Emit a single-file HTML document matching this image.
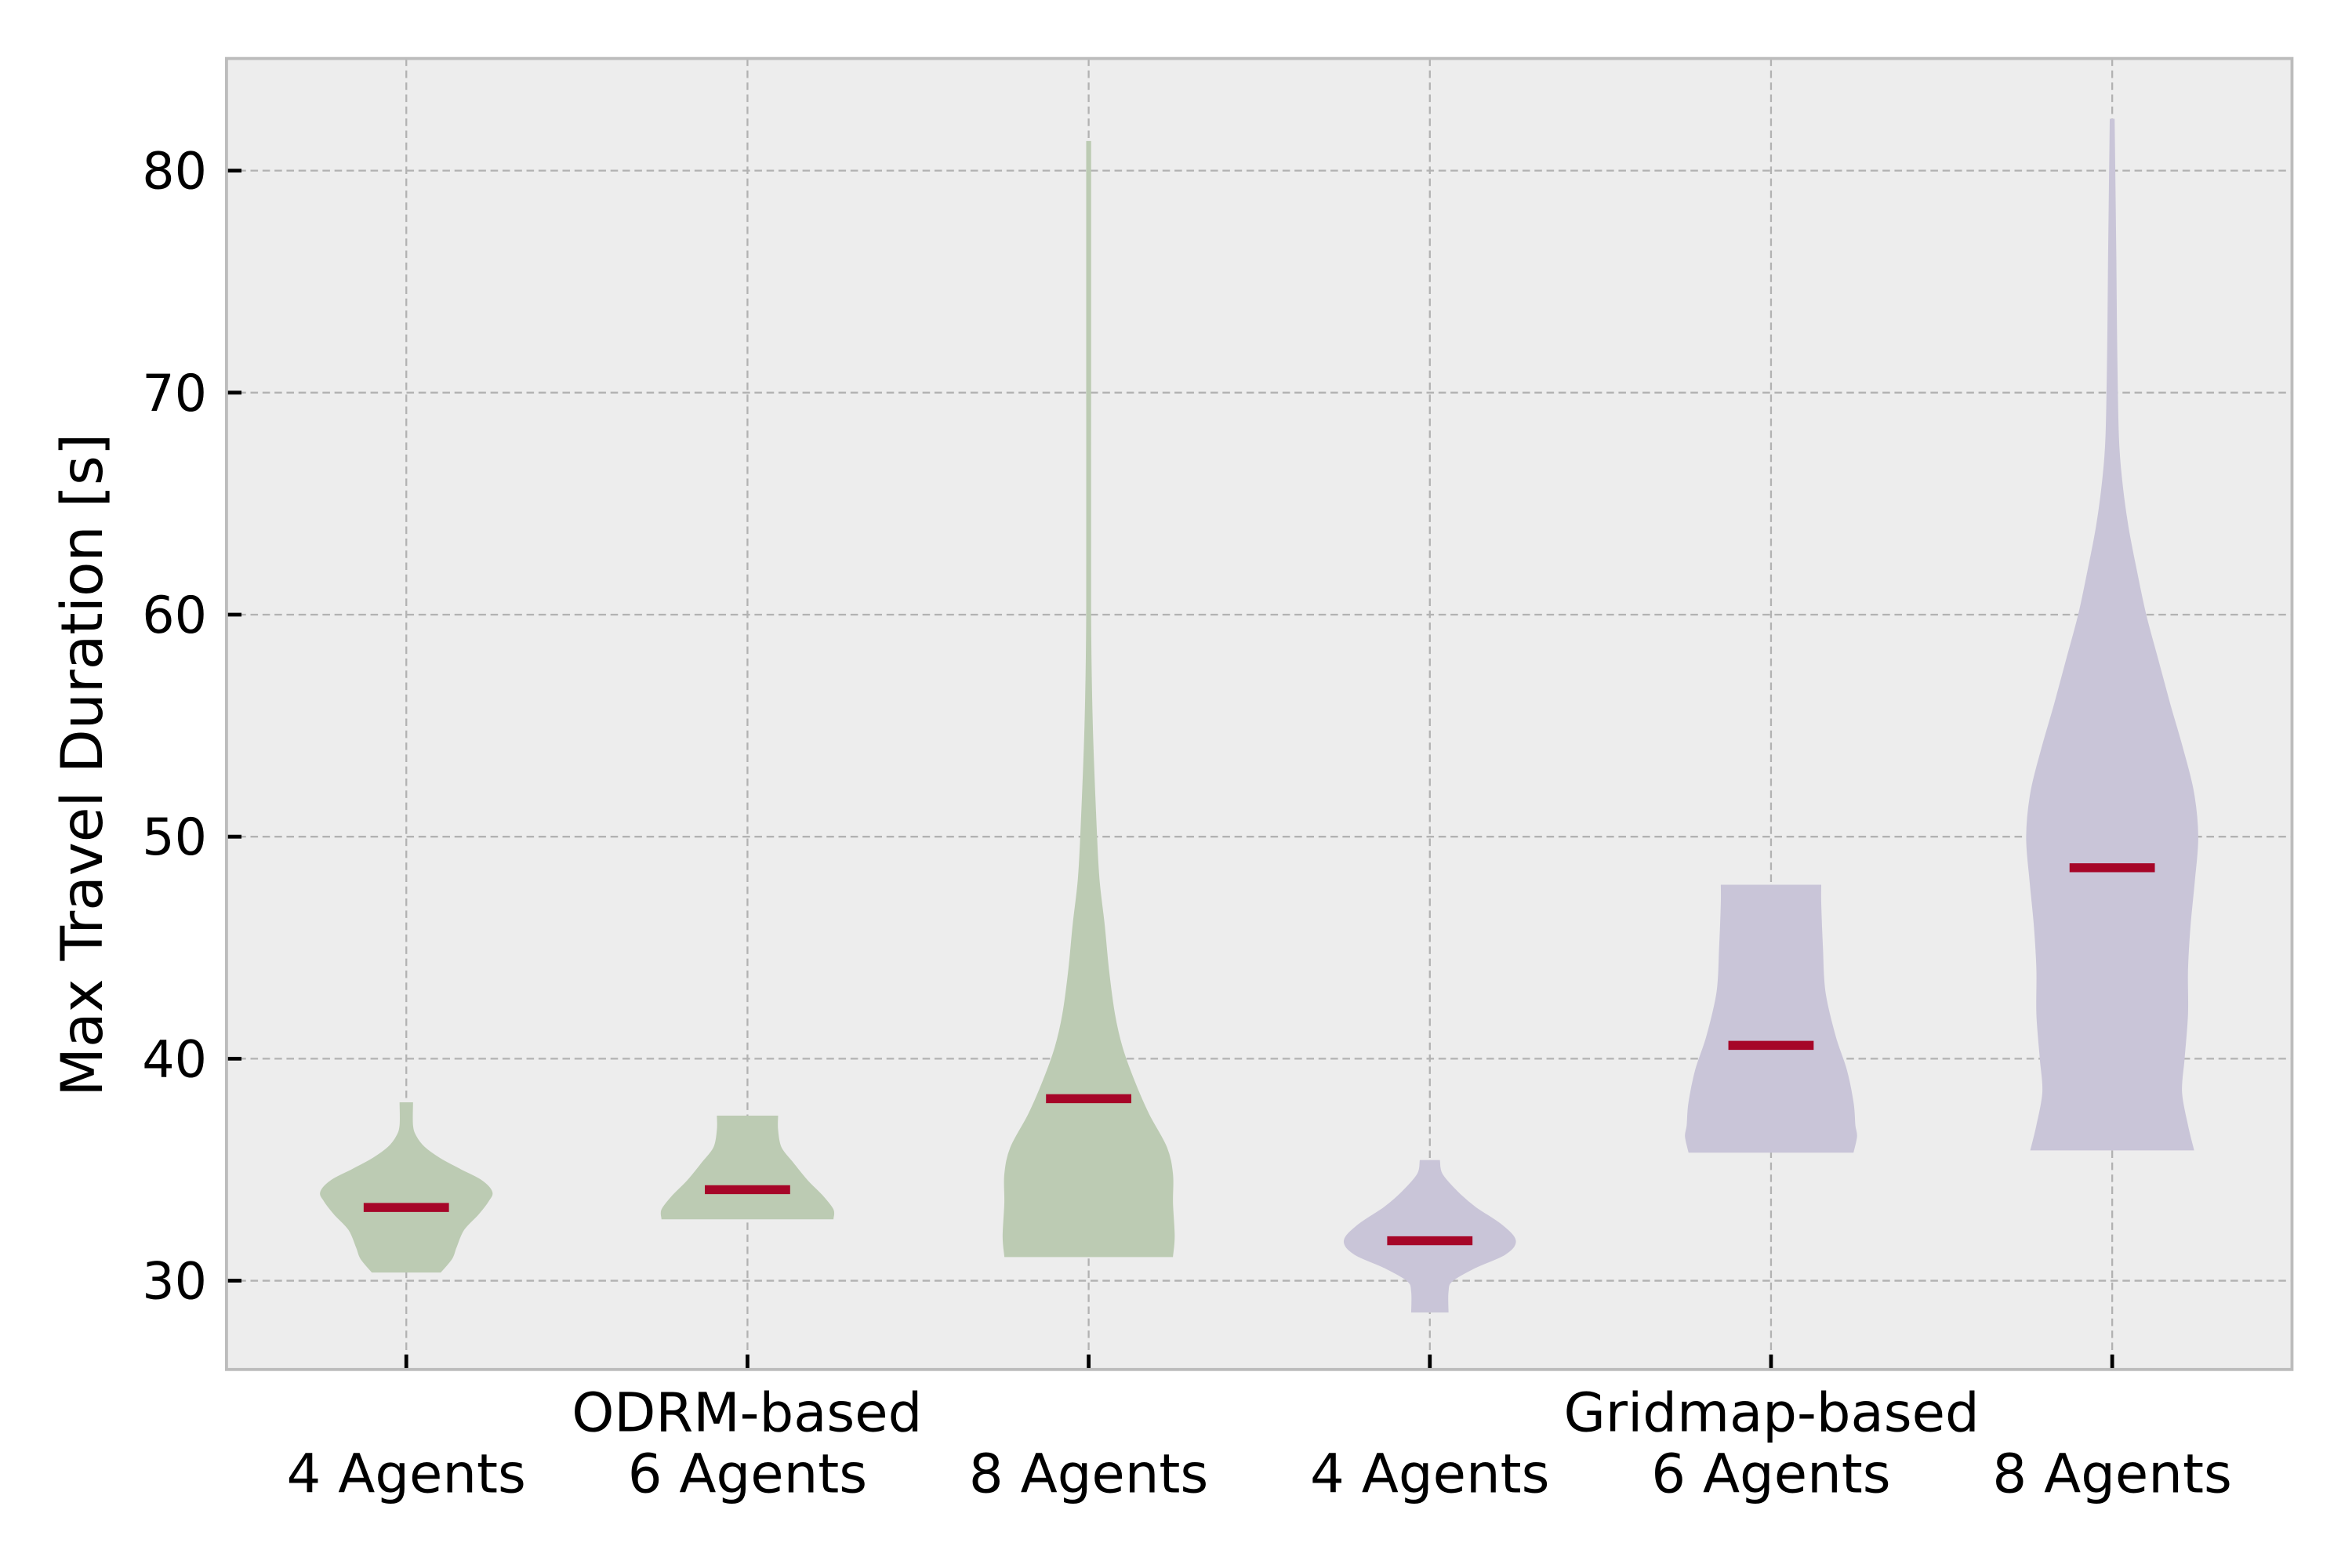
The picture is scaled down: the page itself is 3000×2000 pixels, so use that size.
<!DOCTYPE html>
<html><head><meta charset="utf-8"><style>
html,body{margin:0;padding:0;background:#fff;}
svg{display:block;font-family:"DejaVu Sans","Liberation Sans",sans-serif;}
</style></head><body>
<svg id="chart" width="3000" height="2000" viewBox="0 0 1568 1045.33" xmlns="http://www.w3.org/2000/svg">
<rect x="0" y="0" width="1568" height="1046" fill="#fff"/>
<rect x="151" y="39" width="1377" height="874" fill="#ededed"/>
<g id="grid"></g>
<g id="violins"></g>
<g id="axes"></g>
<rect x="151" y="39" width="1377" height="874" fill="none" stroke="#bcbcbc" stroke-width="2"/>
<text transform="translate(68,510) rotate(-90)" text-anchor="middle" font-size="38" fill="#000">Max Travel Duration [s]</text>
<text x="498" y="954" text-anchor="middle" font-size="36">ODRM-based</text>
<text x="1181" y="954" text-anchor="middle" font-size="36">Gridmap-based</text>
</svg>
<script>
const categories = ["4 Agents","6 Agents","8 Agents","4 Agents","6 Agents","8 Agents"];
const medians = [33.3, 34.1, 38.2, 31.8, 40.6, 48.6];
const yTicks = [30, 40, 50, 60, 70, 80];
const groupColors = ["#bccbb3","#bccbb3","#bccbb3","#c9c5d8","#c9c5d8","#c9c5d8"];
// violin profiles: [value, relative half width (1 = max)]
const violin0 = [[30.4,0.40],[31,0.53],[31.5,0.58],[32.3,0.67],[33,0.84],[33.6,0.96],[34,1],[34.5,0.88],[35,0.63],[35.5,0.39],[36,0.21],[36.5,0.11],[37,0.07],[38,0.07]];
const violin1 = [[32.8,1],[33.2,1],[33.8,0.88],[34.5,0.70],[35.3,0.53],[36,0.39],[36.8,0.35],[37.4,0.35]];
const violin2 = [[31.1,0.98],[32,1],[33.5,0.98],[34.8,0.98],[36,0.91],[37.5,0.70],[39,0.53],[40.5,0.39],[42,0.30],[44,0.23],[46,0.18],[48,0.12],[50,0.09],[55,0.04],[60,0.02],[70,0.02],[81.3,0.02]];
const violin3 = [[28.6,0.21],[29.5,0.21],[30,0.26],[30.6,0.53],[31.2,0.88],[31.8,1],[32.5,0.84],[33.3,0.53],[34,0.32],[34.8,0.14],[35.4,0.11]];
const violin4 = [[35.8,0.96],[36.5,1],[37,0.98],[38,0.96],[39.5,0.88],[41,0.75],[43,0.63],[45,0.60],[47,0.58],[47.8,0.58]];
const violin5 = [[35.9,0.95],[37,0.88],[38.5,0.81],[40,0.84],[42,0.88],[44,0.88],[46,0.91],[48,0.96],[50,1],[52,0.95],[54,0.82],[56,0.67],[58,0.53],[60,0.39],[62,0.28],[64,0.18],[66,0.11],[68,0.07],[72,0.05],[76,0.04],[82.3,0.02]];
const violins = [violin0, violin1, violin2, violin3, violin4, violin5];

const NS = "http://www.w3.org/2000/svg";
const L = 151, R = 1528, T = 39, B = 913;
const xMin = 0.473, xMax = 6.527, yMin = 26, yMax = 85.05;
function xS(i){ return L + (i + 1 - xMin) / (xMax - xMin) * (R - L); }
function yS(v){ return B - (v - yMin) / (yMax - yMin) * (B - T); }
const maxHalf = 0.25 / (xMax - xMin) * (R - L);
function mk(tag, attrs, parent){ const e = document.createElementNS(NS, tag); for (const k in attrs) e.setAttribute(k, attrs[k]); parent.appendChild(e); return e; }
function smooth(pts){
  let d = 'M' + pts[0][0].toFixed(2) + ',' + pts[0][1].toFixed(2);
  for (let k = 0; k < pts.length - 1; k++) {
    const p0 = pts[Math.max(k-1,0)], p1 = pts[k], p2 = pts[k+1], p3 = pts[Math.min(k+2,pts.length-1)];
    const c1 = [p1[0] + (p2[0]-p0[0])/6, p1[1] + (p2[1]-p0[1])/6];
    const c2 = [p2[0] - (p3[0]-p1[0])/6, p2[1] - (p3[1]-p1[1])/6];
    d += ' C' + c1.map(v=>v.toFixed(2)).join(',') + ' ' + c2.map(v=>v.toFixed(2)).join(',') + ' ' + p2[0].toFixed(2) + ',' + p2[1].toFixed(2);
  }
  return d;
}
const grid = document.getElementById('grid'), vg = document.getElementById('violins'), ax = document.getElementById('axes');

yTicks.forEach(t => {
  const y = yS(t);
  const g = mk('line', {x1:L, x2:R, y1:y, y2:y, stroke:'#b2b2b2', 'stroke-width':1.2, 'stroke-dasharray':'5,3'}, grid);
  
  
  const tk = mk('line', {x1:L, x2:L+10, y1:y, y2:y, stroke:'#000', 'stroke-width':2.5}, ax);
  
  
  const lb = mk('text', {x:L-13, y:y+12, 'text-anchor':'end', 'font-size':34}, ax);
  lb.textContent = t;
  
  
});
categories.forEach((c, i) => {
  const x = xS(i);
  const g = mk('line', {x1:x, x2:x, y1:T, y2:B, stroke:'#b2b2b2', 'stroke-width':1.2, 'stroke-dasharray':'5,3'}, grid);
  
  
  const tk = mk('line', {x1:x, x2:x, y1:B, y2:B-10, stroke:'#000', 'stroke-width':2.5}, ax);
  
  
  const lb = mk('text', {x:x, y:995, 'text-anchor':'middle', 'font-size':36}, ax);
  lb.textContent = c;
  
  

  const prof = violins[i];
  const right = prof.map(p => [x + p[1]*maxHalf, yS(p[0])]);
  const left = prof.slice().reverse().map(p => [x - p[1]*maxHalf, yS(p[0])]);
  const d = smooth(right) + ' L' + left[0][0].toFixed(2) + ',' + left[0][1].toFixed(2) + smooth(left).replace(/^M[^ ]+/, '') + ' Z';
  const body = mk('path', {d: d, fill: groupColors[i], stroke: groupColors[i], 'stroke-width':1}, vg);
  
  
  const ym = yS(medians[i]);
  const med = mk('line', {x1:x-maxHalf/2, x2:x+maxHalf/2, y1:ym, y2:ym, stroke:'#a60628', 'stroke-width':6}, vg);
  
  
});
</script>
</body></html>
